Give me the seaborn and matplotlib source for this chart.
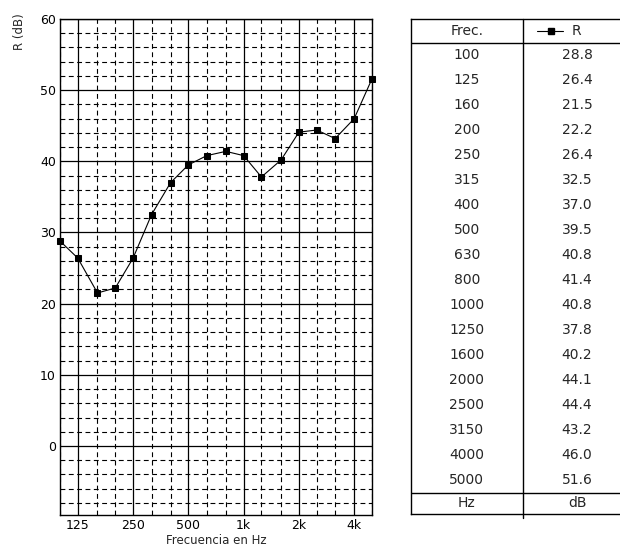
import numpy as np
import pandas as pd
import matplotlib
matplotlib.use('Agg')
import matplotlib.pyplot as plt
import seaborn as sns
from matplotlib.ticker import FixedLocator, FixedFormatter, NullFormatter, MultipleLocator

# Data
freqs = [100, 125, 160, 200, 250, 315, 400, 500, 630, 800,
         1000, 1250, 1600, 2000, 2500, 3150, 4000, 5000]
r_db = [28.8, 26.4, 21.5, 22.2, 26.4, 32.5, 37.0, 39.5, 40.8, 41.4,
        40.8, 37.8, 40.2, 44.1, 44.4, 43.2, 46.0, 51.6]
octave_ticks = [125, 250, 500, 1000, 2000, 4000]
octave_labels = ['125', '250', '500', '1k', '2k', '4k']
y_ticks = [0, 10, 20, 30, 40, 50, 60]

df = pd.DataFrame({'freq': freqs, 'R': r_db})

sns.set_style('white')
plt.rcParams['font.family'] = ['DejaVu Sans']
plt.rcParams['lines.scale_dashes'] = False

fig = plt.figure(figsize=(6.2, 5.5), dpi=100)
ax = fig.add_axes([60 / 620, 1 - 515 / 550, 312 / 620, 496 / 550])

sns.lineplot(data=df, x='freq', y='R', color='black', linewidth=0.8,
             marker='s', markersize=5, markeredgecolor='black', ax=ax,
             zorder=5, clip_on=False)

ax.set_xscale('log')
ax.set_xlim(100, 5000)
ax.set_ylim(-9.7, 60)

ax.xaxis.set_major_locator(FixedLocator(octave_ticks))
ax.xaxis.set_major_formatter(FixedFormatter(octave_labels))
minor_x = [f for f in freqs if f not in octave_ticks]
ax.xaxis.set_minor_locator(FixedLocator(minor_x))
ax.xaxis.set_minor_formatter(NullFormatter())
ax.yaxis.set_major_locator(FixedLocator(y_ticks))
ax.yaxis.set_minor_locator(MultipleLocator(2))

ax.grid(which='major', color='black', linewidth=0.9, linestyle='-')
ax.grid(which='minor', color='black', linewidth=0.8, linestyle=(0, (3.5, 2.5)))
ax.set_axisbelow(True)
ax.tick_params(which='both', length=0, labelsize=9, pad=3, colors='black')
for sp in ax.spines.values():
    sp.set_color('black')
    sp.set_linewidth(1.0)

ax.set_xlabel('Frecuencia en Hz', fontsize=8.5, labelpad=1)
ax.set_ylabel('')
fig.text(20 / 620, 1 - 32 / 550, 'R (dB)', rotation=90, fontsize=8.5,
         ha='center', va='center')

# Table on the right
tab = fig.add_axes([411 / 620, 1 - 514 / 550, 221 / 620, 495 / 550])
tab.set_xlim(0, 221)
tab.set_ylim(495, 0)
tab.set_xticks([])
tab.set_yticks([])
for name, sp in tab.spines.items():
    sp.set_color('black')
    sp.set_linewidth(1.0)
tab.spines['right'].set_visible(False)

head_h = 23.7
row_h = 25.0
body_end = head_h + row_h * len(freqs)
col1_c = 55.8
col2_c = 166
tab.axhline(head_h, color='black', linewidth=1.0)
tab.axhline(body_end, color='black', linewidth=1.0)
tab.plot([111.7, 111.7], [0, 499], color='black', linewidth=1.0, clip_on=False)

fs = 10
tab.text(col1_c, head_h / 2, 'Frec.', ha='center', va='center', fontsize=fs)
tab.plot([126, 152], [head_h / 2, head_h / 2], color='black', linewidth=0.8)
tab.plot([139.5], [head_h / 2], marker='s', markersize=5, color='black')
tab.text(161, head_h / 2, 'R', ha='left', va='center', fontsize=fs)
for i, (f, r) in enumerate(zip(freqs, r_db)):
    yc = head_h + row_h * i + row_h / 2
    tab.text(col1_c, yc, str(f), ha='center', va='center', fontsize=fs)
    tab.text(col2_c, yc, f'{r:.1f}', ha='center', va='center', fontsize=fs)
foot_c = (body_end + 495) / 2
tab.text(col1_c, foot_c, 'Hz', ha='center', va='center', fontsize=fs)
tab.text(col2_c, foot_c, 'dB', ha='center', va='center', fontsize=fs)

fig.savefig('out.png', dpi=100)
